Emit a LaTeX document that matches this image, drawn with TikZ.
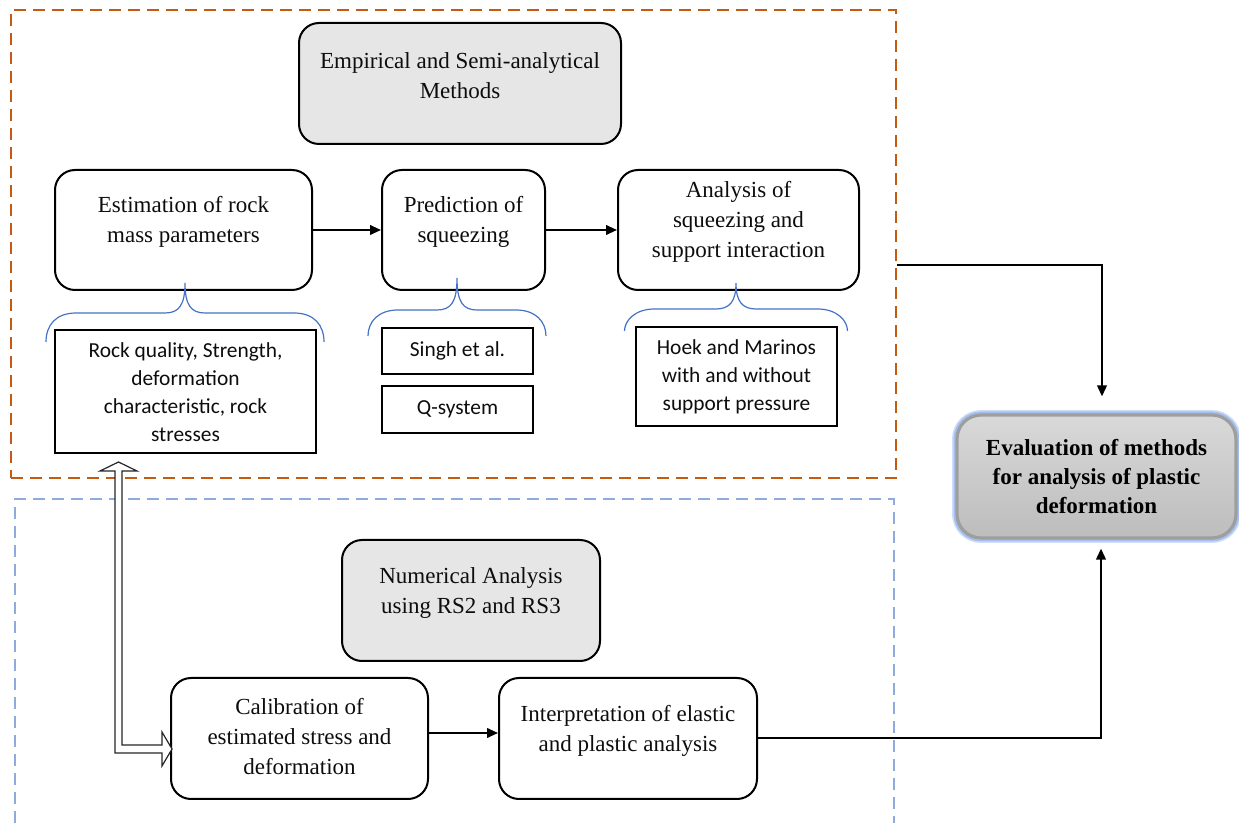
\documentclass[tikz,border=0pt]{standalone}
\usepackage{fontspec}
\setmainfont{Liberation Serif}
\newfontfamily\calib{Carlito}
\usetikzlibrary{arrows.meta,fit,calc}
\definecolor{orangeD}{RGB}{197,90,17}
\definecolor{blueD}{RGB}{143,170,220}
\definecolor{braceblue}{RGB}{68,114,196}
\definecolor{graybg}{RGB}{231,230,230}
\definecolor{glowc}{RGB}{120,160,230}
\newcommand\brc[5]{%
 \draw[brace] ({#1-#3},#5) .. controls ({#1-#3},{#4+12}) and ({#1-#3+10},#4) .. ({#1-#3+30},#4)
  -- ({#1-20},#4) .. controls ({#1-6},#4) and (#1,{#4-8}) .. (#1,#2)
  .. controls (#1,{#4-8}) and ({#1+6},#4) .. ({#1+20},#4)
  -- ({#1+#3-30},#4) .. controls ({#1+#3-10},#4) and ({#1+#3},{#4+12}) .. ({#1+#3},#5);}
\begin{document}
\begin{tikzpicture}[x=0.5pt,y=-0.5pt,
 rbox/.style={draw=black, line width=1pt, rounded corners=10pt, inner sep=0pt},
 gbox/.style={rbox, fill=graybg},
 sbox/.style={draw=black, line width=1pt, inner sep=0pt},
 txt/.style={align=center, font=\fontsize{11.5}{15}\selectfont, inner sep=0pt, text=black!95},
 stxt/.style={align=center, font=\calib\fontsize{10.7}{14}\selectfont, inner sep=0pt, text=black!95},
 arr/.style={line width=1pt, -{Triangle[length=5.5pt,width=4.8pt]}},
 brace/.style={draw=braceblue, line width=0.6pt},
 grpdash/.style={line width=1pt, dash pattern=on 6pt off 3.5pt},
]
\path[use as bounding box] (0,0) rectangle (1239,823);

% group frames
\node[fit={(11,10)(896,478)}, inner sep=0pt, draw=orangeD, grpdash] (empgrp) {};
\draw[draw=blueD, grpdash] (15,823) -- (15,499) -- (894,499) -- (894,823);

% top boxes
\node[gbox, fit={(299,23)(621,144)}] (emp) {};
\node[txt] (empT) at (460,76) {Empirical and Semi-analytical\\Methods};

\node[rbox, fit={(55,170)(312,290)}] (est) {};
\node[txt] (estT) at (183.5,222) {Estimation of rock\\mass parameters};
\node[rbox, fit={(382,170)(545,290)}] (pred) {};
\node[txt] (predT) at (463.5,222) {Prediction of\\squeezing};
\node[rbox, fit={(618,170)(859,290)}] (ana) {};
\node[txt] (anaT) at (738.5,222) {Analysis of\\squeezing and\\support interaction};

% braces
\brc{185}{283}{139}{313}{342}
\brc{457}{278}{89}{310}{336}
\brc{736}{283}{111.5}{309}{331}

% sans boxes
\node[sbox, fit={(55,330)(316,453)}] (rock) {};
\node[stxt] (rockT) at (185.5,392) {Rock quality, Strength,\\deformation\\characteristic, rock\\stresses};
\node[sbox, fit={(382,328)(533,374)}] (singh) {};
\node[stxt] (singhT) at (singh.center) {Singh et al.};
\node[sbox, fit={(382,386)(533,433)}] (qsys) {};
\node[stxt] (qsysT) at (qsys.center) {Q-system};
\node[sbox, fit={(636,327)(837,426)}] (hoek) {};
\node[stxt] (hoekT) at (hoek.center) {Hoek and Marinos\\with and without\\support pressure};

% lower boxes
\node[gbox, fit={(342,540)(600,661)}] (num) {};
\node[txt] (numT) at (471,593) {Numerical Analysis\\using RS2 and RS3};
\node[rbox, fit={(171,678)(428,799)}] (cal) {};
\node[txt] (calT) at (299.5,737) {Calibration of\\estimated stress and\\deformation};
\node[rbox, fit={(499,678)(757,799)}] (interp) {};
\node[txt] (interpT) at (628,731) {Interpretation of elastic\\and plastic analysis};

% evaluation box
\node[fit={(957,415)(1236,538)}, inner sep=0pt, rounded corners=12pt,
  preaction={draw=glowc, line width=5pt, opacity=0.35},
  preaction={draw=glowc, line width=3.5pt, opacity=0.5},
  top color=black!15, bottom color=black!26, draw=black!38, line width=1.6pt] (eval) {};
\node[align=center, font=\bfseries\fontsize{11.5}{14.5}\selectfont, inner sep=0pt] (evalT) at (eval.center)
  {Evaluation of methods\\for analysis of plastic\\deformation};

% connectors
\draw[arr] (est.east) -- (pred.west);
\draw[arr] (pred.east) -- (ana.west);
\draw[arr] ([yshift=2.75pt]cal.east) -- ([yshift=2.75pt]interp.west);
\coordinate (o1) at (897,265);
\draw[arr, shorten >=8.5pt] (o1) -| ([xshift=2.75pt]eval.north);
\draw[arr, shorten >=4.5pt] (interp.east) -| ([xshift=2.25pt]eval.south);

% hollow double arrow between rock box and calibration box
\coordinate (dup) at (118.5,462);
\draw[line width=0.6pt, draw=black!85, fill=white] (dup) -- ++(18.5,9) -- ++(-15,0) -- ++(0,274)
  -- ++(40,0) -- ++(0,-13) -- ++(10,17) -- ++(-10,17) -- ++(0,-13) -- ++(-47,0)
  -- ++(0,-282) -- ++(-15,0) -- cycle;
\end{tikzpicture}
\end{document}
